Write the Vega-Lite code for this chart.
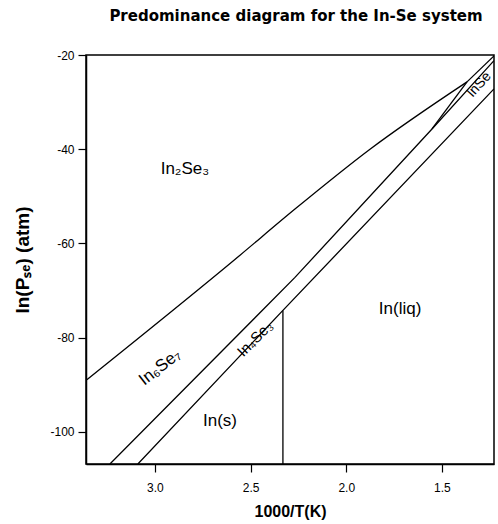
{
  "$schema": "https://vega.github.io/schema/vega-lite/v6.json",
  "width": 408,
  "height": 409,
  "autosize": {"type": "none"},
  "padding": {"left": 86, "top": 55, "right": 4, "bottom": 60},
  "background": "white",
  "config": {
    "view": {"stroke": "black", "strokeWidth": 1.5},
    "font": "Liberation Sans"
  },
  "title": {
    "text": "Predominance diagram for the In-Se system",
    "font": "DejaVu Sans",
    "fontSize": 15,
    "fontWeight": "bold",
    "color": "black",
    "anchor": "middle",
    "offset": 25,
    "dx": 6
  },
  "datasets": {
    "lines": [
      {"seg": "A", "o": 0, "x": 3.355, "y": -88.9},
      {"seg": "A", "o": 1, "x": 2.582, "y": -63.4},
      {"seg": "A", "o": 2, "x": 2.268, "y": -52.7},
      {"seg": "A", "o": 3, "x": 1.876, "y": -40.0},
      {"seg": "A", "o": 4, "x": 1.369, "y": -25.7},
      {"seg": "A2", "o": 0, "x": 1.369, "y": -25.7},
      {"seg": "A2", "o": 1, "x": 1.228, "y": -20.2},
      {"seg": "D", "o": 0, "x": 1.369, "y": -25.7},
      {"seg": "D", "o": 1, "x": 1.552, "y": -35.7},
      {"seg": "B", "o": 0, "x": 3.235, "y": -106.8},
      {"seg": "B", "o": 1, "x": 2.268, "y": -67.2},
      {"seg": "B", "o": 2, "x": 1.552, "y": -35.7},
      {"seg": "B", "o": 3, "x": 1.228, "y": -21.2},
      {"seg": "C", "o": 0, "x": 3.089, "y": -106.8},
      {"seg": "C", "o": 1, "x": 2.331, "y": -74.2},
      {"seg": "C", "o": 2, "x": 1.228, "y": -27.2}
    ],
    "vline": [
      {"x": 2.331, "y": -106.8, "y2": -74.2}
    ],
    "labels": [
      {"name": "In₂Se₃", "x": 2.843, "y": -44.2, "kind": "flat"},
      {"name": "In(liq)", "x": 1.719, "y": -74.0, "kind": "flat"},
      {"name": "In(s)", "x": 2.66, "y": -97.6, "kind": "flat"},
      {"name": "In₆Se₇", "x": 2.974, "y": -86.3, "kind": "r1"},
      {"name": "In₄Se₃", "x": 2.477, "y": -80.2, "kind": "r2"},
      {"name": "InSe", "x": 1.306, "y": -26.3, "kind": "r3"}
    ]
  },
  "layer": [
    {
      "data": {"name": "lines"},
      "transform": [{"filter": "datum.seg == 'A'"}],
      "mark": {"type": "line", "color": "black", "strokeWidth": 1.3, "clip": true, "interpolate": "monotone"},
      "encoding": {
        "x": {
          "field": "x", "type": "quantitative",
          "scale": {"domain": [1.228, 3.36], "reverse": true, "nice": false, "zero": false},
          "axis": {
            "orient": "bottom",
            "title": "1000/T(K)",
            "titleFont": "Liberation Sans",
            "titleFontSize": 16,
            "titleFontWeight": "bold",
            "titleColor": "black",
            "titlePadding": 10,
            "values": [3.0, 2.5, 2.0, 1.5],
            "labelExpr": "format(datum.value, '.1f')",
            "labelFontSize": 12,
            "labelColor": "black",
            "labelPadding": 10,
            "tickSize": 8,
            "tickColor": "black",
            "tickWidth": 1.2,
            "domainColor": "black",
            "domainWidth": 1.5,
            "grid": false
          }
        },
        "y": {
          "field": "y", "type": "quantitative",
          "scale": {"domain": [-106.8, -20], "nice": false, "zero": false},
          "axis": {
            "title": "ln(Pₛₑ) (atm)",
            "titleFont": "Liberation Sans",
            "titleFontSize": 19,
            "titleFontWeight": "bold",
            "titleColor": "black",
            "titlePadding": 17,
            "values": [-100, -80, -60, -40, -20],
            "labelExpr": "datum.value + ''",
            "labelFontSize": 12,
            "labelColor": "black",
            "labelPadding": 4,
            "tickSize": 8,
            "tickColor": "black",
            "tickWidth": 1.2,
            "domainColor": "black",
            "domainWidth": 1.5,
            "grid": false
          }
        },
        "order": {"field": "o"}
      }
    },
    {
      "data": {"name": "lines"},
      "transform": [{"filter": "datum.seg != 'A'"}],
      "mark": {"type": "line", "color": "black", "strokeWidth": 1.3, "clip": true},
      "encoding": {
        "x": {"field": "x", "type": "quantitative"},
        "y": {"field": "y", "type": "quantitative"},
        "detail": {"field": "seg"},
        "order": {"field": "o"}
      }
    },
    {
      "data": {"name": "vline"},
      "mark": {"type": "rule", "color": "black", "strokeWidth": 1.3},
      "encoding": {
        "x": {"field": "x", "type": "quantitative"},
        "y": {"field": "y", "type": "quantitative"},
        "y2": {"field": "y2"}
      }
    },
    {
      "data": {"name": "labels"},
      "transform": [{"filter": "datum.kind == 'flat'"}],
      "mark": {"type": "text", "fontSize": 17, "color": "black", "font": "Liberation Sans"},
      "encoding": {
        "x": {"field": "x", "type": "quantitative"},
        "y": {"field": "y", "type": "quantitative"},
        "text": {"field": "name"}
      }
    },
    {
      "data": {"name": "labels"},
      "transform": [{"filter": "datum.kind == 'r1'"}],
      "mark": {"type": "text", "fontSize": 17, "color": "black", "angle": 322, "font": "Liberation Sans"},
      "encoding": {
        "x": {"field": "x", "type": "quantitative"},
        "y": {"field": "y", "type": "quantitative"},
        "text": {"field": "name"}
      }
    },
    {
      "data": {"name": "labels"},
      "transform": [{"filter": "datum.kind == 'r2'"}],
      "mark": {"type": "text", "fontSize": 15, "color": "black", "angle": 315, "font": "Liberation Sans"},
      "encoding": {
        "x": {"field": "x", "type": "quantitative"},
        "y": {"field": "y", "type": "quantitative"},
        "text": {"field": "name"}
      }
    },
    {
      "data": {"name": "labels"},
      "transform": [{"filter": "datum.kind == 'r3'"}],
      "mark": {"type": "text", "fontSize": 14, "color": "black", "angle": 312, "font": "Liberation Sans"},
      "encoding": {
        "x": {"field": "x", "type": "quantitative"},
        "y": {"field": "y", "type": "quantitative"},
        "text": {"field": "name"}
      }
    }
  ]
}
